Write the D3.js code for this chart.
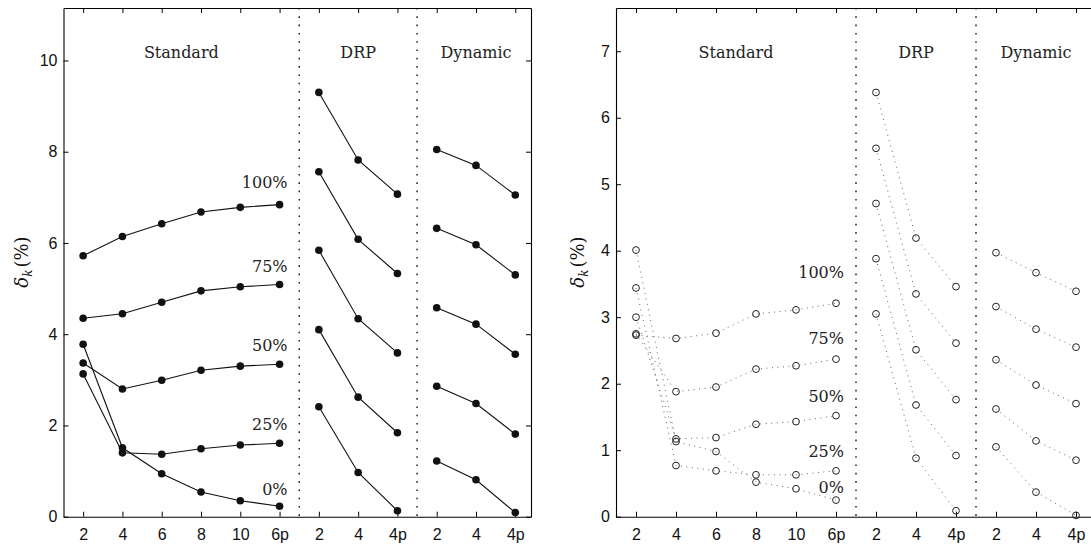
<!DOCTYPE html>
<html><head><meta charset="utf-8">
<script src="https://cdn.jsdelivr.net/npm/d3@7"></script>
<style>body{margin:0;background:#fff}svg{display:block}</style>
</head><body><svg id="chart" width="1091" height="547"></svg>
<script>
// ---- data ----
const positions = [1,2,3,4,5,6,7,8,9,10,11,12];
const tickLabels = ["2","4","6","8","10","6p","2","4","4p","2","4","4p"];
const groupNames = ["Standard","DRP","Dynamic"];
const groupPositions = [[1,2,3,4,5,6],[7,8,9],[10,11,12]];
const seriesNames = ["100%","75%","50%","25%","0%"];

const leftStandard = [
  [5.72,6.14,6.42,6.68,6.78,6.84],
  [4.35,4.45,4.70,4.95,5.04,5.09],
  [3.37,2.80,2.99,3.21,3.30,3.34],
  [3.13,1.40,1.37,1.49,1.57,1.61],
  [3.78,1.51,0.94,0.54,0.35,0.23]];
const leftDRP = [[9.30,7.82,7.07],[7.56,6.08,5.33],[5.84,4.34,3.59],[4.10,2.62,1.84],[2.41,0.97,0.13]];
const leftDynamic = [[8.05,7.70,7.05],[6.32,5.96,5.30],[4.58,4.22,3.56],[2.86,2.48,1.81],[1.22,0.81,0.09]];
const leftLabelVals = [7.32,5.49,3.75,2.03,0.61];
const leftYTicks = [0,2,4,6,8,10];

const rightStandard = [
  [2.73,2.68,2.76,3.05,3.11,3.21],
  [2.75,1.88,1.95,2.22,2.27,2.37],
  [3.00,1.17,1.19,1.39,1.43,1.52],
  [3.44,0.77,0.69,0.63,0.63,0.69],
  [4.01,1.13,0.98,0.52,0.42,0.25]];
const rightDRP = [[6.38,4.19,3.46],[5.54,3.35,2.61],[4.71,2.51,1.76],[3.88,1.68,0.92],[3.05,0.88,0.09]];
const rightDynamic = [[3.97,3.67,3.39],[3.16,2.82,2.55],[2.36,1.98,1.70],[1.62,1.14,0.85],[1.05,0.37,0.02]];
const rightLabelVals = [3.67,2.68,1.81,0.98,0.44];
const rightYTicks = [0,1,2,3,4,5,6,7];

// ---- drawing ----
const svg = d3.select("#chart");
const serif = "DejaVu Serif, serif";
const sans = "Liberation Sans, Arial, sans-serif";

function panel(cfg) {
  const x = d3.scaleLinear().domain(cfg.xDomain).range(cfg.xRange);
  const y = d3.scaleLinear().domain(cfg.yDomain).range([516.7, 8]);
  const g = svg.append("g");

  const styleAxis = sel => {
    sel.select(".domain").attr("stroke", "#000").attr("stroke-width", 1.1);
    sel.selectAll(".tick line").attr("stroke", "#000").attr("stroke-width", 1);
    sel.selectAll("text").attr("font-family", sans).attr("font-size", 16).attr("fill", "#111");
  };

  // bottom
  g.append("g").attr("transform", `translate(0,${y(0)})`)
    .call(d3.axisBottom(x).tickValues(positions).tickFormat((d,i)=>tickLabels[i]).tickSize(-5).tickPadding(12).tickSizeOuter(0))
    .call(styleAxis);
  // top
  g.append("g").attr("transform", `translate(0,${y(cfg.yDomain[1])})`)
    .call(d3.axisTop(x).tickValues(positions).tickFormat("").tickSize(-5).tickSizeOuter(0))
    .call(styleAxis);
  // left
  g.append("g").attr("transform", `translate(${x(cfg.xDomain[0])},0)`)
    .call(d3.axisLeft(y).tickValues(cfg.yTicks).tickFormat(d3.format("d")).tickSize(-5).tickPadding(6).tickSizeOuter(0))
    .call(styleAxis);
  // right
  if (cfg.drawRight) {
    g.append("g").attr("transform", `translate(${x(cfg.xDomain[1])},0)`)
      .call(d3.axisRight(y).tickValues(cfg.yTicks).tickFormat("").tickSize(-5).tickSizeOuter(0))
      .call(styleAxis);
  }

  // separators
  [6.5, 9.5].forEach(s => {
    g.append("line").attr("x1", x(s)).attr("x2", x(s)).attr("y1", y(cfg.yDomain[1])).attr("y2", y(0))
      .attr("stroke", "#000").attr("stroke-width", 1.3).attr("stroke-dasharray", "1.6,6.7");
  });

  // group titles
  groupNames.forEach((name, i) => {
    g.append("text").attr("x", x(d3.mean(groupPositions[i]))).attr("y", 57.5)
      .attr("text-anchor", "middle").attr("font-family", serif).attr("font-size", 16).attr("fill", "#222")
      .text(name);
  });

  // series
  const line = d3.line().x(d => x(d[0])).y(d => y(d[1]));
  const sets = [cfg.standard, cfg.drp, cfg.dynamic];
  sets.forEach((set, gi) => {
    set.forEach(vals => {
      const pts = vals.map((v, j) => [groupPositions[gi][j], v]);
      g.append("path").datum(pts).attr("d", line).attr("fill", "none")
        .attr("stroke", cfg.lineColor).attr("stroke-width", cfg.lineWidth)
        .attr("stroke-dasharray", cfg.dash);
      g.selectAll(null).data(pts).enter().append("circle")
        .attr("cx", d => x(d[0])).attr("cy", d => y(d[1])).attr("r", cfg.r)
        .attr("fill", cfg.filled ? "#111" : "none")
        .attr("stroke", "#222").attr("stroke-width", cfg.filled ? 0 : 1);
    });
  });

  // percent labels
  seriesNames.forEach((name, i) => {
    g.append("text").attr("x", x(6) + 8).attr("y", y(cfg.labelVals[i])).attr("dy", "0.36em")
      .attr("text-anchor", "end").attr("font-family", serif).attr("font-size", 16).attr("fill", "#222")
      .text(name);
  });

  // y label
  const yl = g.append("text").attr("transform", `translate(${cfg.ylabelX},262) rotate(-90)`)
    .attr("text-anchor", "middle").attr("font-family", serif).attr("font-size", 18).attr("fill", "#111");
  yl.append("tspan").attr("font-style", "italic").text("δ");
  yl.append("tspan").attr("font-style", "italic").attr("font-size", 12).attr("dy", 4).text("k");
  yl.append("tspan").attr("dy", -4).attr("dx", 2).text("(%)");
}

panel({id: "L", xDomain: [0.5, 12.4], xRange: [63.5, 531], yDomain: [0, 11.15], yTicks: leftYTicks,
  drawRight: true, standard: leftStandard, drp: leftDRP, dynamic: leftDynamic, labelVals: leftLabelVals,
  lineColor: "#111", lineWidth: 1.1, dash: null, r: 3.8, filled: true, ylabelX: 28});
panel({id: "R", xDomain: [0.5, 12.5], xRange: [616, 1096], yDomain: [0, 7.65], yTicks: rightYTicks,
  drawRight: false, standard: rightStandard, drp: rightDRP, dynamic: rightDynamic, labelVals: rightLabelVals,
  lineColor: "#666", lineWidth: 1, dash: "1,4.5", r: 3.4, filled: false, ylabelX: 584});
</script></body></html>
